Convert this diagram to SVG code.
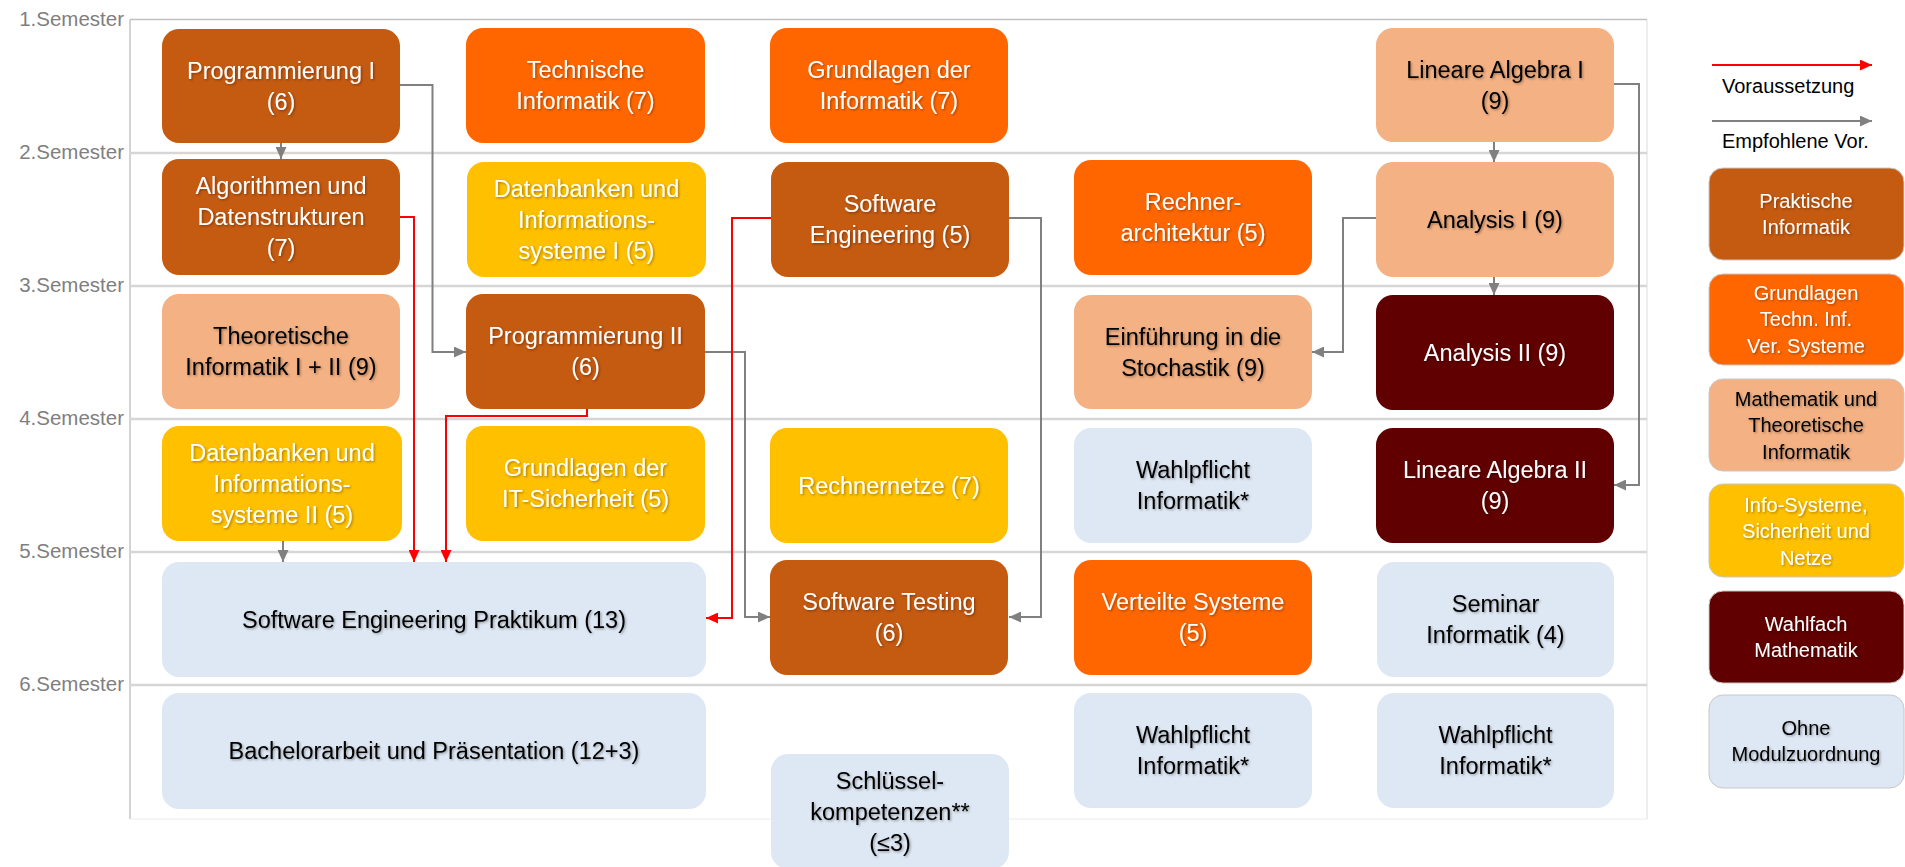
<svg xmlns="http://www.w3.org/2000/svg" width="1905" height="867" viewBox="0 0 1905 867">
<defs>
<style>
text{font-family:"Liberation Sans",Arial,sans-serif}
.n text{font-size:23.5px;text-anchor:middle;filter:url(#ts)}
.lg text{font-size:20px;text-anchor:middle;filter:url(#ts)}
.w{fill:#ffffff}
.k{fill:#000000}
.pi{fill:#C55A11}
.gt{fill:#FF6600}
.ma{fill:#F4B183}
.is{fill:#FFC000}
.wm{fill:#600000}
.oh{fill:#DEE8F4}
.lg rect{stroke:#c8c8c8;stroke-width:1}
.sem{font-size:20.5px;fill:#7f7f7f;text-anchor:end}
.row{stroke:#d6d6d6;stroke-width:2.5}
.gr{fill:none;stroke:#808080;stroke-width:2;marker-end:url(#ag)}
.rd{fill:none;stroke:#ff0000;stroke-width:2;marker-end:url(#ar)}
</style>
<filter id="ts" x="-10%" y="-30%" width="120%" height="160%">
<feDropShadow dx="1.2" dy="1.2" stdDeviation="1" flood-color="#000" flood-opacity="0.35"/>
</filter>
<marker id="ag" viewBox="0 0 12 11" refX="12" refY="5.5" markerWidth="12" markerHeight="11" markerUnits="userSpaceOnUse" orient="auto">
<path d="M0,0 L12,5.5 L0,11 z" fill="#808080"/>
</marker>
<marker id="ar" viewBox="0 0 12 11" refX="12" refY="5.5" markerWidth="12" markerHeight="11" markerUnits="userSpaceOnUse" orient="auto">
<path d="M0,0 L12,5.5 L0,11 z" fill="#ff0000"/>
</marker>
</defs>
<rect width="1905" height="867" fill="#ffffff"/>

<g id="grid">
<line x1="130" y1="19.5" x2="1647" y2="19.5" stroke="#c0c0c0" stroke-width="1.5"/>
<line x1="130" y1="19.5" x2="130" y2="819" stroke="#a6a6a6" stroke-width="1"/>
<line x1="1647" y1="19.5" x2="1647" y2="819" stroke="#dcdcdc" stroke-width="1"/>
<line x1="130" y1="819" x2="1647" y2="819" stroke="#ececec" stroke-width="1"/>
<line class="row" x1="130" y1="153" x2="1647" y2="153"/>
<line class="row" x1="130" y1="286" x2="1647" y2="286"/>
<line class="row" x1="130" y1="419" x2="1647" y2="419"/>
<line class="row" x1="130" y1="552" x2="1647" y2="552"/>
<line class="row" x1="130" y1="685" x2="1647" y2="685"/>
<text class="sem" x="124" y="26">1.Semester</text>
<text class="sem" x="124" y="159">2.Semester</text>
<text class="sem" x="124" y="292">3.Semester</text>
<text class="sem" x="124" y="425">4.Semester</text>
<text class="sem" x="124" y="558">5.Semester</text>
<text class="sem" x="124" y="691">6.Semester</text>
</g>

<g id="connectors">
<path class="gr" d="M281,143 V159"/>
<path class="gr" d="M400,85 H432.5 V352 H466"/>
<path class="gr" d="M705,352 H745 V617 H770"/>
<path class="gr" d="M1009,218 H1041 V617 H1009"/>
<path class="gr" d="M1376,218 H1343 V352 H1312"/>
<path class="gr" d="M1494,142 V162"/>
<path class="gr" d="M1494,277 V295"/>
<path class="gr" d="M1614,84 H1639 V485 H1614"/>
<path class="gr" d="M283,541 V562"/>
<path class="rd" d="M400,217 H414 V562"/>
<path class="rd" d="M587,409 V416 H446 V562"/>
<path class="rd" d="M771,218 H732 V618 H706"/>
</g>

<g id="prog1" class="n"><rect class="pi" x="162" y="29" width="238" height="114" rx="17"/><text class="w"><tspan x="281" y="78.5">Programmierung I</tspan><tspan x="281" y="109.5">(6)</tspan></text></g>
<g id="techinf" class="n"><rect class="gt" x="466" y="28" width="239" height="115" rx="17"/><text class="w"><tspan x="585.5" y="78">Technische</tspan><tspan x="585.5" y="109">Informatik (7)</tspan></text></g>
<g id="grundinf" class="n"><rect class="gt" x="770" y="28" width="238" height="115" rx="17"/><text class="w"><tspan x="889" y="78">Grundlagen der</tspan><tspan x="889" y="109">Informatik (7)</tspan></text></g>
<g id="linalg1" class="n"><rect class="ma" x="1376" y="28" width="238" height="114" rx="17"/><text class="k"><tspan x="1495" y="77.5">Lineare Algebra I</tspan><tspan x="1495" y="108.5">(9)</tspan></text></g>

<g id="algo" class="n"><rect class="pi" x="162" y="159" width="238" height="116" rx="17"/><text class="w"><tspan x="281" y="194">Algorithmen und</tspan><tspan x="281" y="225">Datenstrukturen</tspan><tspan x="281" y="256">(7)</tspan></text></g>
<g id="db1" class="n"><rect class="is" x="467" y="162" width="239" height="115" rx="17"/><text class="w"><tspan x="586.5" y="196.5">Datenbanken und</tspan><tspan x="586.5" y="227.5">Informations-</tspan><tspan x="586.5" y="258.5">systeme I (5)</tspan></text></g>
<g id="sweng" class="n"><rect class="pi" x="771" y="162" width="238" height="115" rx="17"/><text class="w"><tspan x="890" y="212">Software</tspan><tspan x="890" y="243">Engineering (5)</tspan></text></g>
<g id="rechner" class="n"><rect class="gt" x="1074" y="160" width="238" height="115" rx="17"/><text class="w"><tspan x="1193" y="210">Rechner-</tspan><tspan x="1193" y="241">architektur (5)</tspan></text></g>
<g id="ana1" class="n"><rect class="ma" x="1376" y="162" width="238" height="115" rx="17"/><text class="k"><tspan x="1495" y="227.5">Analysis I (9)</tspan></text></g>

<g id="theo" class="n"><rect class="ma" x="162" y="294" width="238" height="115" rx="17"/><text class="k"><tspan x="281" y="344">Theoretische</tspan><tspan x="281" y="375">Informatik I + II (9)</tspan></text></g>
<g id="prog2" class="n"><rect class="pi" x="466" y="294" width="239" height="115" rx="17"/><text class="w"><tspan x="585.5" y="344">Programmierung II</tspan><tspan x="585.5" y="375">(6)</tspan></text></g>
<g id="stoch" class="n"><rect class="ma" x="1074" y="295" width="238" height="114" rx="17"/><text class="k"><tspan x="1193" y="344.5">Einführung in die</tspan><tspan x="1193" y="375.5">Stochastik (9)</tspan></text></g>
<g id="ana2" class="n"><rect class="wm" x="1376" y="295" width="238" height="115" rx="17"/><text class="w"><tspan x="1495" y="360.5">Analysis II (9)</tspan></text></g>

<g id="db2" class="n"><rect class="is" x="162" y="426" width="240" height="115" rx="17"/><text class="w"><tspan x="282" y="460.5">Datenbanken und</tspan><tspan x="282" y="491.5">Informations-</tspan><tspan x="282" y="522.5">systeme II (5)</tspan></text></g>
<g id="itsec" class="n"><rect class="is" x="466" y="426" width="239" height="115" rx="17"/><text class="w"><tspan x="585.5" y="476">Grundlagen der</tspan><tspan x="585.5" y="507">IT-Sicherheit (5)</tspan></text></g>
<g id="netze" class="n"><rect class="is" x="770" y="428" width="238" height="115" rx="17"/><text class="w"><tspan x="889" y="493.5">Rechnernetze (7)</tspan></text></g>
<g id="wp4" class="n"><rect class="oh" x="1074" y="428" width="238" height="115" rx="17"/><text class="k"><tspan x="1193" y="478">Wahlpflicht</tspan><tspan x="1193" y="509">Informatik*</tspan></text></g>
<g id="linalg2" class="n"><rect class="wm" x="1376" y="428" width="238" height="115" rx="17"/><text class="w"><tspan x="1495" y="478">Lineare Algebra II</tspan><tspan x="1495" y="509">(9)</tspan></text></g>

<g id="sep" class="n"><rect class="oh" x="162" y="562" width="544" height="115" rx="17"/><text class="k"><tspan x="434" y="627.5">Software Engineering Praktikum (13)</tspan></text></g>
<g id="swtest" class="n"><rect class="pi" x="770" y="560" width="238" height="115" rx="17"/><text class="w"><tspan x="889" y="610">Software Testing</tspan><tspan x="889" y="641">(6)</tspan></text></g>
<g id="vs" class="n"><rect class="gt" x="1074" y="560" width="238" height="115" rx="17"/><text class="w"><tspan x="1193" y="610">Verteilte Systeme</tspan><tspan x="1193" y="641">(5)</tspan></text></g>
<g id="seminar" class="n"><rect class="oh" x="1377" y="562" width="237" height="115" rx="17"/><text class="k"><tspan x="1495.5" y="612">Seminar</tspan><tspan x="1495.5" y="643">Informatik (4)</tspan></text></g>

<g id="bachelor" class="n"><rect class="oh" x="162" y="693" width="544" height="116" rx="17"/><text class="k"><tspan x="434" y="759">Bachelorarbeit und Präsentation (12+3)</tspan></text></g>
<g id="schluessel" class="n"><rect class="oh" x="771" y="754" width="238" height="115" rx="17"/><text class="k"><tspan x="890" y="788.5">Schlüssel-</tspan><tspan x="890" y="819.5">kompetenzen**</tspan><tspan x="890" y="850.5">(≤3)</tspan></text></g>
<g id="wp6a" class="n"><rect class="oh" x="1074" y="693" width="238" height="115" rx="17"/><text class="k"><tspan x="1193" y="743">Wahlpflicht</tspan><tspan x="1193" y="774">Informatik*</tspan></text></g>
<g id="wp6b" class="n"><rect class="oh" x="1377" y="693" width="237" height="115" rx="17"/><text class="k"><tspan x="1495.5" y="743">Wahlpflicht</tspan><tspan x="1495.5" y="774">Informatik*</tspan></text></g>

<g id="legend">
<path class="rd" d="M1712,65 H1872"/>
<text x="1722" y="93" font-size="20" fill="#000">Voraussetzung</text>
<path class="gr" d="M1712,121 H1872"/>
<text x="1722" y="148" font-size="20" fill="#000">Empfohlene Vor.</text>
<g id="lg-pi" class="lg"><rect class="pi" x="1709" y="168" width="195" height="92" rx="14"/><text class="w"><tspan x="1806" y="207.5">Praktische</tspan><tspan x="1806" y="233.5">Informatik</tspan></text></g>
<g id="lg-gt" class="lg"><rect class="gt" x="1709" y="274" width="195" height="91" rx="14"/><text class="w"><tspan x="1806" y="299.5">Grundlagen</tspan><tspan x="1806" y="326">Techn. Inf.</tspan><tspan x="1806" y="352.5">Ver. Systeme</tspan></text></g>
<g id="lg-ma" class="lg"><rect class="ma" x="1709" y="379" width="195" height="92" rx="14"/><text class="k"><tspan x="1806" y="405.5">Mathematik und</tspan><tspan x="1806" y="432">Theoretische</tspan><tspan x="1806" y="458.5">Informatik</tspan></text></g>
<g id="lg-is" class="lg"><rect class="is" x="1709" y="484" width="195" height="93" rx="14"/><text class="w"><tspan x="1806" y="511.5">Info-Systeme,</tspan><tspan x="1806" y="538">Sicherheit und</tspan><tspan x="1806" y="564.5">Netze</tspan></text></g>
<g id="lg-wm" class="lg"><rect class="wm" x="1709" y="591" width="195" height="92" rx="14"/><text class="w"><tspan x="1806" y="630.5">Wahlfach</tspan><tspan x="1806" y="656.5">Mathematik</tspan></text></g>
<g id="lg-oh" class="lg"><rect class="oh" x="1709" y="695" width="195" height="93" rx="14"/><text class="k"><tspan x="1806" y="735">Ohne</tspan><tspan x="1806" y="761">Modulzuordnung</tspan></text></g>
</g>
</svg>
